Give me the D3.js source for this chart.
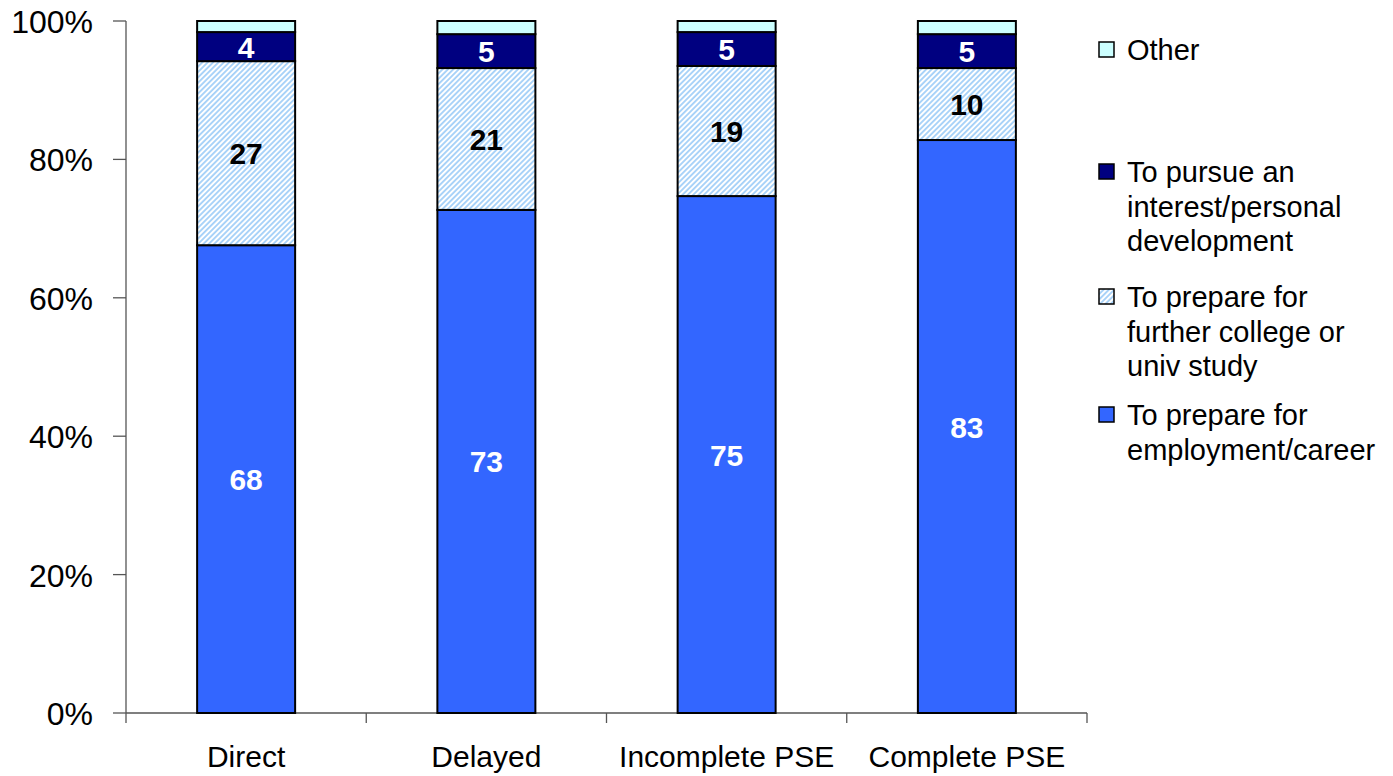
<!DOCTYPE html>
<html><head><meta charset="utf-8">
<script src="https://cdn.jsdelivr.net/npm/d3@7"></script>
<style>body{margin:0;background:#fff}svg{display:block}text{font-family:"Liberation Sans",Arial,sans-serif}</style>
</head><body><svg id="c" width="1393" height="776"></svg>
<script>
const categories = ["Direct", "Delayed", "Incomplete PSE", "Complete PSE"];
const seriesNames = ["To prepare for employment/career", "To prepare for further college or univ study", "To pursue an interest/personal development", "Other"];
const employment = [67.6, 72.7, 74.7, 82.8];
const furtherStudy = [26.6, 20.5, 18.8, 10.4];
const interest = [4.2, 4.9, 4.9, 4.9];
const other = [1.6, 1.9, 1.6, 1.9];
const yTicks = [0, 20, 40, 60, 80, 100];
const legendLines = [["Other"], ["To pursue an", "interest/personal", "development"], ["To prepare for", "further college or", "univ study"], ["To prepare for", "employment/career"]];

(function(){
const svg = d3.select("#c");
const defs = svg.append("defs");
const pw = 3.8;
const pat = defs.append("pattern").attr("id","hatch").attr("patternUnits","userSpaceOnUse")
  .attr("width",pw).attr("height",pw).attr("patternTransform","rotate(45)");
pat.append("rect").attr("width",pw).attr("height",pw).attr("fill","#ffffff");
pat.append("rect").attr("width",pw/2).attr("height",pw).attr("fill","#a8d2f8");

const pLeft=126, pRight=1087, pTop=21, pBottom=713;
const x = d3.scaleBand().domain(categories).range([pLeft,pRight]).paddingInner(0).paddingOuter(0);
const y = d3.scaleLinear().domain([0,100]).range([pBottom,pTop]);
const fills = ["#3366ff","url(#hatch)","#000080","#ccffff"];
const labelColors = ["#ffffff","#000000","#ffffff",null];

const rows = categories.map((c,i)=>({cat:c, s0:employment[i], s1:furtherStudy[i], s2:interest[i], s3:other[i]}));
const stack = d3.stack().keys(["s0","s1","s2","s3"])(rows);
const barW = 98;

const g = svg.append("g");
g.append("line").attr("x1",pLeft).attr("x2",pLeft).attr("y1",pTop).attr("y2",pBottom).attr("stroke","#555").attr("stroke-width",1.3);
g.append("line").attr("x1",pLeft).attr("x2",pRight).attr("y1",pBottom).attr("y2",pBottom).attr("stroke","#555").attr("stroke-width",1.3);
yTicks.forEach(t=>{
  g.append("line").attr("x1",pLeft-13).attr("x2",pLeft).attr("y1",y(t)).attr("y2",y(t)).attr("stroke","#555").attr("stroke-width",1.3);
  g.append("text").attr("x",93).attr("y",y(t)+12).attr("text-anchor","end").attr("font-size",32).attr("fill","#000").text(t+"%");
});
const xt = [pLeft].concat(categories.map(c=>x(c)+x.bandwidth()));
xt.forEach(v=>{
  g.append("line").attr("x1",v).attr("x2",v).attr("y1",pBottom).attr("y2",pBottom+10).attr("stroke","#555").attr("stroke-width",1.3);
});
categories.forEach(c=>{
  g.append("text").attr("x",x(c)+x.bandwidth()/2).attr("y",767).attr("text-anchor","middle").attr("font-size",30).attr("fill","#000").text(c);
});

stack.forEach((layer,li)=>{
  const lg = svg.append("g");
  lg.selectAll("rect").data(layer).join("rect")
    .attr("x",d=>x(d.data.cat)+x.bandwidth()/2-barW/2)
    .attr("y",d=>y(d[1])).attr("width",barW).attr("height",d=>y(d[0])-y(d[1]))
    .attr("fill",fills[li]).attr("stroke","#000").attr("stroke-width",2);
  if(labelColors[li]){
    lg.selectAll("text").data(layer).join("text")
      .attr("x",d=>x(d.data.cat)+x.bandwidth()/2)
      .attr("y",d=>(y(d[0])+y(d[1]))/2+11)
      .attr("text-anchor","middle").attr("font-size",30).attr("font-weight","bold")
      .attr("fill",labelColors[li]).text(d=>Math.round(d[1]-d[0]));
  }
});

const legFills = ["#ccffff","#000080","url(#hatch)","#3366ff"];
const legY = [50,172,297,415];
legendLines.forEach((lines,i)=>{
  svg.append("rect").attr("x",1099).attr("y",legY[i]-8).attr("width",15).attr("height",15)
    .attr("fill",legFills[i]).attr("stroke","#000").attr("stroke-width",1.5);
  lines.forEach((l,j)=>{
    svg.append("text").attr("x",1127).attr("y",legY[i]+10+j*34.5).attr("font-size",29).attr("fill","#000").text(l);
  });
});
})();
</script></body></html>
